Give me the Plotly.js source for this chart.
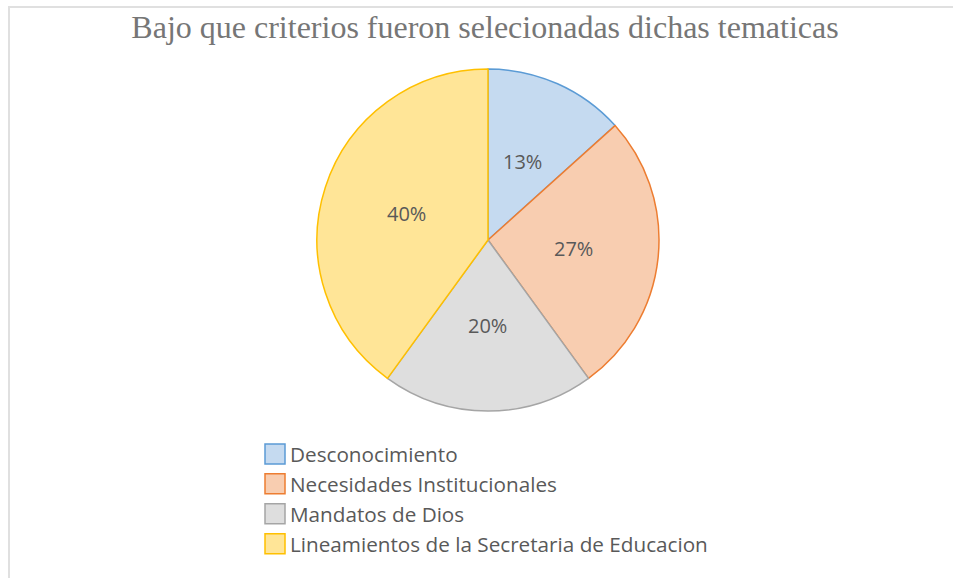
<!DOCTYPE html>
<html>
<head>
<meta charset="utf-8">
<script src="https://cdn.plot.ly/plotly-3.0.1.min.js"></script>
<style>
  html, body { margin: 0; padding: 0; background: #ffffff; }
  #chart { position: absolute; left: 0; top: 0; width: 953px; height: 578px; }
  #frame { position: absolute; left: 8px; top: 6px; width: 945px; height: 572px;
           border-top: 2px solid #e0e0e0; border-left: 2px solid #e0e0e0;
           box-sizing: border-box; pointer-events: none; }
</style>
</head>
<body>
<div id="chart"></div>
<div id="frame"></div>
<script>
const chartTitle = "Bajo que criterios fueron selecionadas dichas tematicas";
const categories = ["Desconocimiento", "Necesidades Institucionales", "Mandatos de Dios", "Lineamientos de la Secretaria de Educacion"];
const counts = [2, 4, 3, 6];
const fillColors = ["#c5daf0", "#f8cdb0", "#dedede", "#ffe597"];
const lineColors = ["#5b9bd5", "#ed7d31", "#a5a5a5", "#ffc000"];

const W = 953, H = 578;
const cx = 488, cy = 240, r = 171;
const labelFont = { family: "'Open Sans', sans-serif", size: 20, color: "#595959" };

// data labels placed Excel-style at half radius on each slice's mid-angle (computed from the data)
const total = counts.reduce((a, b) => a + b, 0);
let cum = 0;
const annotations = counts.map(function (v) {
  const mid = (cum + v / 2) / total * 2 * Math.PI;
  cum += v;
  const px = cx + 0.5 * r * Math.sin(mid);
  const py = cy - 0.5 * r * Math.cos(mid);
  return { x: px / W, y: 1 - py / H, xref: "paper", yref: "paper", showarrow: false,
           xanchor: "center", yanchor: "middle",
           text: Math.round(v / total * 100) + "%", font: labelFont };
});

const trace = {
  type: "pie",
  labels: categories,
  values: counts,
  sort: false,
  direction: "clockwise",
  rotation: 0,
  textinfo: "none",
  marker: { colors: fillColors, line: { color: lineColors, width: 1.5 } },
  domain: { x: [(cx - r) / W, (cx + r) / W], y: [1 - (cy + r) / H, 1 - (cy - r) / H] },
  hoverinfo: "label+percent"
};

const layout = {
  width: W, height: H,
  margin: { l: 0, r: 0, t: 0, b: 0 },
  paper_bgcolor: "#ffffff",
  title: { text: chartTitle, x: 485 / W, xanchor: "center", y: 1 - 27 / H, yanchor: "middle",
           font: { family: "'Liberation Serif', 'Times New Roman', serif", size: 32, color: "#767676" } },
  annotations: annotations,
  showlegend: true,
  legend: { x: 250 / W, xanchor: "left", y: 1 - 434 / H, yanchor: "top", orientation: "v",
            font: { family: "'Open Sans', sans-serif", size: 20.7, color: "#595959" },
            bgcolor: "rgba(0,0,0,0)", tracegroupgap: 0, itemclick: false }
};

Plotly.newPlot("chart", [trace], layout, { displayModeBar: false, staticPlot: true }).then(function () {
  document.querySelectorAll("#chart .legendpoints path").forEach(function (p) {
    p.setAttribute("d", "M15,10H-5V-10H15Z");
    p.style.strokeWidth = "1.5px";
  });
});
</script>
</body>
</html>
